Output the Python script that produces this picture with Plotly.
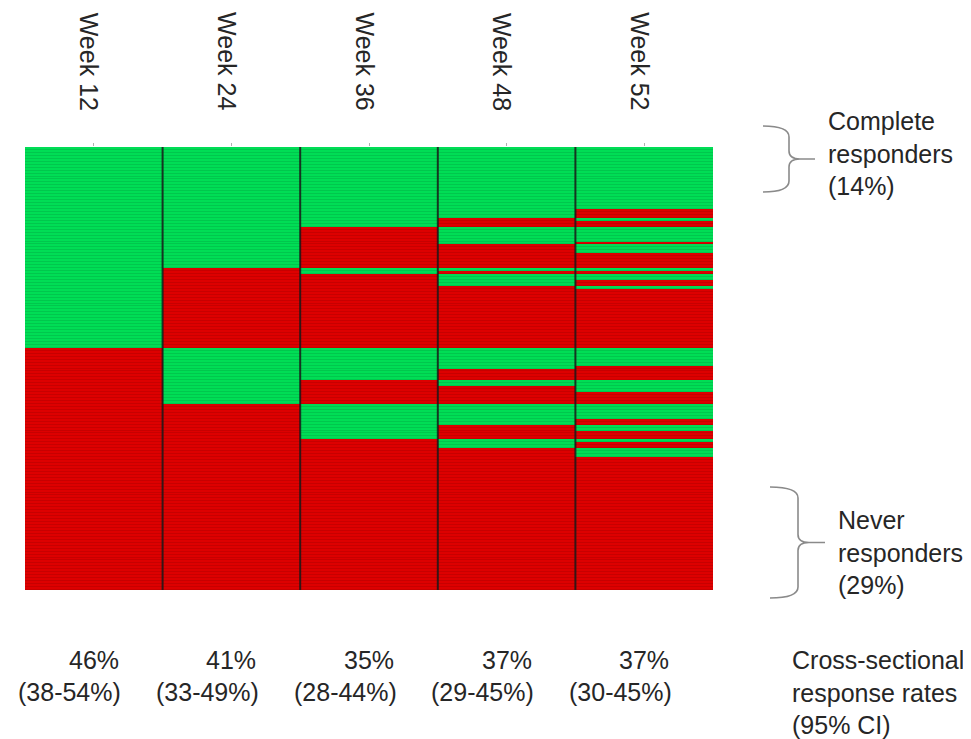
import plotly.graph_objects as go

# ---------------- data ----------------
weeks = ["Week 12", "Week 24", "Week 36", "Week 48", "Week 52"]

# Response patterns (1 = responder, 0 = non-responder), sorted as in the chart,
# and the number of patients sharing each pattern
wk12 = [1, 1, 1, 1, 1, 1, 1, 1, 1, 1, 1, 1, 1, 1, 0, 0, 0, 0, 0, 0, 0, 0, 0, 0, 0, 0, 0, 0]
wk24 = [1, 1, 1, 1, 1, 1, 1, 1, 0, 0, 0, 0, 0, 0, 1, 1, 1, 1, 1, 1, 0, 0, 0, 0, 0, 0, 0, 0]
wk36 = [1, 1, 1, 1, 0, 0, 0, 0, 1, 1, 0, 0, 0, 0, 1, 1, 1, 0, 0, 0, 1, 1, 1, 1, 0, 0, 0, 0]
wk48 = [1, 1, 0, 0, 1, 1, 0, 0, 1, 0, 1, 1, 0, 0, 1, 1, 0, 1, 0, 0, 1, 1, 0, 0, 1, 1, 0, 0]
wk52 = [1, 0, 1, 0, 1, 0, 1, 0, 1, 0, 1, 0, 1, 0, 1, 0, 0, 1, 1, 0, 1, 0, 1, 0, 1, 0, 1, 0]
counts = [21, 3, 1, 2, 5, 1, 3, 5, 1, 1, 2, 2, 1, 20, 6, 1, 4, 2, 2, 4, 5, 2, 2, 3, 1, 2, 3, 45]

rates = ["46%", "41%", "35%", "37%", "37%"]
cis = ["(38-54%)", "(33-49%)", "(28-44%)", "(29-45%)", "(30-45%)"]

complete_label = "Complete<br>responders<br>(14%)"
never_label = "Never<br>responders<br>(29%)"
cross_label = "Cross-sectional<br>response rates<br>(95% CI)"

# ---------------- build matrix ----------------
z = []
for i, n in enumerate(counts):
    row = [wk12[i], wk24[i], wk36[i], wk48[i], wk52[i]]
    for _ in range(n):
        z.append(row)
patients = list(range(1, len(z) + 1))

GREEN = "#00DD55"
RED = "#DD0000"
GREEN_D = "#00C24B"
RED_D = "#C20000"
FONT = "Liberation Sans, Arial, sans-serif"
TXT = "#262626"

fig = go.Figure()
# darker base layer: shows through the thin gaps between patient rows
fig.add_trace(go.Heatmap(
    z=z, x=weeks, y=patients,
    colorscale=[[0, RED_D], [0.5, RED_D], [0.5, GREEN_D], [1, GREEN_D]],
    zmin=0, zmax=1, showscale=False, hoverinfo="skip",
))
fig.add_trace(go.Heatmap(
    z=z, x=weeks, y=patients, ygap=0.8,
    colorscale=[[0, RED], [0.5, RED], [0.5, GREEN], [1, GREEN]],
    zmin=0, zmax=1, showscale=False, hoverinfo="skip",
))

# page offset of the figure (body margin) and plot area in page pixels
OFF = 8
FW, FH = 971 - OFF, 739 - OFF
L, R, T, B = 25, 713, 147, 590
W, H = R - L, B - T


def px(x):
    return (x - L) / W


def py(y):
    return (B - y) / H


shapes = []
for i in range(len(weeks) - 1):
    shapes.append(dict(type="line", xref="x", yref="paper", x0=i + 0.5, x1=i + 0.5,
                       y0=0, y1=1, line=dict(color="rgba(25,25,25,0.85)", width=2)))


def brace(x1, xv, xt, yt, yb):
    ym = (yt + yb) / 2
    pts = [
        ("M", [(x1, yt)]),
        ("Q", [(xv, yt), (xv, yt + 11)]),
        ("L", [(xv, ym - 8)]),
        ("Q", [(xv, ym), (xv + 11, ym)]),
        ("L", [(xt, ym)]),
        ("M", [(xv + 11, ym)]),
        ("Q", [(xv, ym), (xv, ym + 8)]),
        ("L", [(xv, yb - 11)]),
        ("Q", [(xv, yb), (x1, yb)]),
    ]
    s = ""
    for cmd, p in pts:
        s += cmd + " " + " ".join(f"{px(a):.5f},{py(b):.5f}" for a, b in p) + " "
    return dict(type="path", xref="paper", yref="paper", path=s.strip(),
                line=dict(color="#8a8a8a", width=1.6))


shapes.append(brace(763, 789, 815, 126, 192))
shapes.append(brace(770, 798, 825, 487, 598))

annotations = []
for i, wk in enumerate(weeks):
    annotations.append(dict(x=wk, xref="x", y=py(61.5), yref="paper", text=wk,
                            textangle=90, showarrow=False, xanchor="center",
                            yanchor="middle", xshift=-4,
                            font=dict(size=25, color=TXT, family=FONT)))
    annotations.append(dict(x=wk, xref="x", y=py(660), yref="paper", text=rates[i],
                            showarrow=False, xanchor="center", yanchor="middle",
                            font=dict(size=25, color=TXT, family=FONT)))
    annotations.append(dict(x=wk, xref="x", y=py(692), yref="paper", text=cis[i],
                            showarrow=False, xanchor="center", yanchor="middle",
                            xshift=-24,
                            font=dict(size=25, color=TXT, family=FONT)))

annotations.append(dict(x=px(826), xref="paper", y=py(153), yref="paper",
                        text=complete_label, showarrow=False, xanchor="left",
                        yanchor="middle", align="left",
                        font=dict(size=25, color=TXT, family=FONT)))
annotations.append(dict(x=px(836), xref="paper", y=py(552), yref="paper",
                        text=never_label, showarrow=False, xanchor="left",
                        yanchor="middle", align="left",
                        font=dict(size=25, color=TXT, family=FONT)))
annotations.append(dict(x=px(790), xref="paper", y=py(692), yref="paper",
                        text=cross_label, showarrow=False, xanchor="left",
                        yanchor="middle", align="left",
                        font=dict(size=25, color=TXT, family=FONT)))

fig.update_layout(
    width=FW, height=FH,
    margin=dict(l=L - OFF, r=971 - R, t=T - OFF, b=739 - B, pad=0),
    paper_bgcolor="white", plot_bgcolor="white",
    shapes=shapes, annotations=annotations,
    font=dict(family=FONT, size=25, color=TXT),
    xaxis=dict(side="top", ticks="outside", ticklen=3, tickcolor="#b0b0b0",
               showticklabels=False, showgrid=False, zeroline=False,
               showline=False, range=[-0.5, 4.5], fixedrange=True),
    yaxis=dict(visible=False, autorange="reversed", fixedrange=True),
    showlegend=False,
)

fig.write_html("out.html")
